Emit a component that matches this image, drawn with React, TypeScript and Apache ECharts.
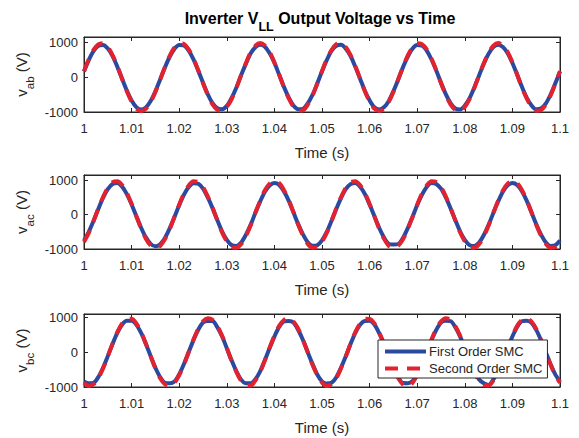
import React, { useEffect, useRef } from "react";
import * as echarts from "echarts";

const TIME = [
  1.0, 1.001, 1.002, 1.003, 1.004, 1.005, 1.006, 1.007, 1.008, 1.009,
  1.01, 1.011, 1.012, 1.013, 1.014, 1.015, 1.016, 1.017, 1.018, 1.019,
  1.02, 1.021, 1.022, 1.023, 1.024, 1.025, 1.026, 1.027, 1.028, 1.029,
  1.03, 1.031, 1.032, 1.033, 1.034, 1.035, 1.036, 1.037, 1.038, 1.039,
  1.04, 1.041, 1.042, 1.043, 1.044, 1.045, 1.046, 1.047, 1.048, 1.049,
  1.05, 1.051, 1.052, 1.053, 1.054, 1.055, 1.056, 1.057, 1.058, 1.059,
  1.06, 1.061, 1.062, 1.063, 1.064, 1.065, 1.066, 1.067, 1.068, 1.069,
  1.07, 1.071, 1.072, 1.073, 1.074, 1.075, 1.076, 1.077, 1.078, 1.079,
  1.08, 1.081, 1.082, 1.083, 1.084, 1.085, 1.086, 1.087, 1.088, 1.089,
  1.09, 1.091, 1.092, 1.093, 1.094, 1.095, 1.096, 1.097, 1.098, 1.099, 1.1,
];

const VAB_FIRST = [
  163, 488, 745, 897, 924, 820, 602, 299, -47, -385, -670, -860, -930, -869, -686, -406, -70, 276, 584, 809, 922, 904, 759, 508, 186,
  -158, -492, -748, -893, -920, -825, -598, -303, 52, 380, 674, 856, 925, 872, 682, 410, 66, -280, -580, -812, -918, -908, -755, -512, -182,
  166, 485, 750, 894, 927, 816, 606, 295, -44, -389, -666, -864, -926, -865, -690, -402, -73, 279, 580, 813, 918, 907, 762, 505, 189,
  -160, -490, -742, -899, -926, -818, -604, -297, 49, 383, 668, 862, 928, 866, 688, 404, 68, -278, -586, -806, -924, -902, -761, -506, -184,
  162,
];
const VAB_SECOND = [
  171, 512, 781, 941, 969, 860, 631, 313, -49, -404, -702, -902, -975, -911, -720, -426, -73, 290, 612, 848, 966, 947, 796, 532, 195,
  -174, -508, -785, -938, -972, -856, -634, -310, 53, 400, 705, 898, 978, 908, 724, 422, 76, -294, -608, -851, -962, -950, -792, -535, -192,
  168, 515, 778, 944, 966, 863, 628, 316, -46, -407, -699, -905, -972, -914, -717, -429, -70, 287, 615, 845, 969, 944, 799, 529, 198,
  -170, -510, -783, -940, -975, -858, -632, -311, 50, 402, 704, 900, 976, 910, 722, 424, 74, -292, -610, -850, -965, -948, -794, -534, -194,
  172,
];
const VAC_FIRST = [
  -751, -502, -184, 161, 483, 737, 888, 914, 811, 595, 295, -46, -381, -662, -851, -920, -859, -679, -402, -69, 273, 578, 800, 912, 894,
  755, 498, 188, -157, -487, -733, -884, -910, -815, -591, -299, 50, 377, 666, 847, 916, 862, 675, 406, 65, -277, -574, -804, -908, -890,
  -748, -505, -180, 164, 480, 740, 885, 917, 808, 598, 292, -43, -384, -659, -848, -870, -860, -682, -399, -72, 276, 575, 803, 915, 891,
  752, 500, 186, -159, -485, -735, -886, -912, -813, -593, -297, 48, 379, 664, 849, 918, 860, 677, 404, 67, -275, -576, -802, -910, -892,
  -750,
];
const VAC_SECOND = [
  -796, -532, -195, 171, 512, 781, 941, 969, 860, 631, 313, -49, -404, -702, -902, -975, -911, -720, -426, -73, 290, 612, 848, 966, 948,
  800, 528, 199, -167, -516, -777, -945, -965, -864, -627, -317, 53, 400, 706, 898, 971, 915, 716, 430, 69, -294, -608, -852, -962, -952,
  -792, -535, -191, 174, 509, 784, 938, 972, 857, 634, 310, -46, -407, -699, -905, -978, -908, -723, -423, -76, 287, 615, 845, 969, 945,
  798, 530, 197, -169, -514, -779, -943, -967, -862, -629, -315, 51, 402, 704, 900, 973, 913, 718, 428, 71, -292, -610, -850, -964, -950,
  -794,
];
const VBC_FIRST = [
  -842, -895, -884, -717, -448, -116, 232, 547, 785, 895, 895, 785, 547, 232, -116, -448, -717, -884, -895, -842, -637, -342, 0, 342, 637,
  846, 892, 888, 713, 452, 112, -236, -543, -789, -892, -894, -781, -551, -228, 120, 444, 721, 880, 893, 846, 633, 346, -4, -338, -641,
  -838, -898, -880, -721, -444, -120, 228, 551, 781, 892, 897, 789, 543, 236, -112, -452, -713, -888, -893, -838, -641, -338, 4, 346, 633,
  844, 894, 886, 715, 450, 114, -234, -545, -787, -893, -940, -783, -549, -230, 118, 446, 719, 882, 896, 840, 635, 344, -2, -340, -639,
  -843,
];
const VBC_SECOND = [
  -878, -968, -922, -748, -468, -121, 242, 570, 819, 953, 953, 819, 570, 242, -121, -468, -748, -922, -968, -878, -664, -357, 0, 357, 664,
  882, 965, 926, 744, 472, 117, -246, -566, -823, -949, -957, -815, -574, -238, 125, 464, 752, 918, 971, 874, 668, 353, -4, -361, -660,
  -874, -971, -918, -752, -464, -125, 238, 574, 815, 957, 949, 823, 566, 246, -117, -472, -744, -926, -990, -882, -660, -361, 4, 353, 668,
  876, 966, 924, 746, 470, 119, -244, -568, -821, -951, -955, -817, -572, -240, 123, 466, 750, 920, 969, 876, 666, 355, -2, -359, -662,
  -880,
];

const SERIES_NAMES = ["First Order SMC", "Second Order SMC"];
const Y_TICKS = [-1000, 0, 1000];
const PANEL_DATA = [
  [VAB_FIRST, VAB_SECOND],
  [VAC_FIRST, VAC_SECOND],
  [VBC_FIRST, VBC_SECOND],
];
const PANEL_SUBS = ["ab", "ac", "bc"];

const FONT = "'Liberation Sans', Arial, Helvetica, sans-serif";
const AX = "#262626";
const BLUE = "#2B4A9F";
const RED = "#E2232F";

const LAYOUT = [
  { top: 37, height: 75, ymax: 1150 },
  { top: 175, height: 74, ymax: 1150 },
  { top: 314, height: 73, ymax: 1090 },
];
const LEFT = 84;
const WIDTH = 476;

export default function App() {
  const ref = useRef<HTMLDivElement>(null);
  useEffect(() => {
    if (!ref.current) return;
    const chart = echarts.init(ref.current, null, { renderer: "svg" });

    const grid = LAYOUT.map((l) => ({
      left: LEFT,
      top: l.top,
      width: WIDTH,
      height: l.height,
      show: true,
      borderColor: AX,
      borderWidth: 1,
      backgroundColor: "#fff",
      containLabel: false,
    }));

    const xAxis: any[] = [];
    const yAxis: any[] = [];
    LAYOUT.forEach((l, i) => {
      const baseX = {
        type: "value",
        gridIndex: i,
        min: 1,
        max: 1.1,
        interval: 0.01,
        splitLine: { show: false },
        axisLine: { show: true, onZero: false, lineStyle: { color: AX, width: 1 } },
        axisTick: { show: true, inside: true, length: 4, lineStyle: { color: AX } },
      };
      xAxis.push({
        ...baseX,
        position: "bottom",
        axisLabel: {
          show: true,
          color: AX,
          fontSize: 13,
          fontFamily: FONT,
          margin: 10,
          formatter: (v: number) => String(Math.round(v * 100) / 100),
        },
        name: "Time (s)",
        nameLocation: "middle",
        nameGap: 33,
        nameTextStyle: { color: AX, fontSize: 15, fontFamily: FONT },
      });
      xAxis.push({ ...baseX, position: "top", axisLabel: { show: false } });
      const baseY = {
        type: "value",
        gridIndex: i,
        min: -1000,
        max: l.ymax,
        interval: 1000,
        splitLine: { show: false },
        axisLine: { show: true, onZero: false, lineStyle: { color: AX, width: 1 } },
        axisTick: { show: true, inside: true, length: 4, lineStyle: { color: AX } },
      };
      yAxis.push({
        ...baseY,
        position: "left",
        axisLabel: {
          show: true,
          color: AX,
          fontSize: 13,
          fontFamily: FONT,
          margin: 6,
          showMaxLabel: false,
          formatter: (v: number) => (Y_TICKS.includes(v) ? String(v) : ""),
        },
      });
      yAxis.push({ ...baseY, position: "right", axisLabel: { show: false } });
    });

    const series: any[] = [];
    PANEL_DATA.forEach((pair, i) => {
      pair.forEach((vals, j) => {
        series.push({
          type: "line",
          name: SERIES_NAMES[j],
          xAxisIndex: i * 2,
          yAxisIndex: i * 2,
          data: TIME.map((t, k) => [t, vals[k]]),
          smooth: 0.3,
          symbol: "none",
          showSymbol: false,
          z: 2 + j,
          lineStyle: {
            color: j === 0 ? BLUE : RED,
            width: 4,
            type: j === 0 ? "solid" : [13, 9],
          },
          itemStyle: { color: j === 0 ? BLUE : RED },
        });
      });
    });

    const graphic: any[] = [
      {
        type: "text",
        x: 320,
        y: 18,
        style: {
          text: "{b|Inverter V}{s|LL}{b| Output Voltage vs Time}",
          align: "center",
          verticalAlign: "middle",
          rich: {
            b: { fontSize: 16, fontWeight: "bold", fontFamily: FONT, fill: "#000" },
            s: { fontSize: 12.5, fontWeight: "bold", fontFamily: FONT, fill: "#000", padding: [18, 0, 0, 0] },
          },
        },
      },
    ];
    LAYOUT.forEach((l, i) => {
      graphic.push({
        type: "text",
        x: 21,
        y: l.top + l.height / 2,
        rotation: Math.PI / 2,
        style: {
          text: `{n|v}{s|${PANEL_SUBS[i]}}{n| (V)}`,
          align: "center",
          verticalAlign: "middle",
          rich: {
            n: { fontSize: 15, fontFamily: FONT, fill: AX },
            s: { fontSize: 11.5, fontFamily: FONT, fill: AX, padding: [18, 0, 0, 0] },
          },
        },
      });
    });

    chart.setOption({
      animation: false,
      backgroundColor: "#fff",
      textStyle: { fontFamily: FONT },
      grid,
      xAxis,
      yAxis,
      series,
      graphic,
      legend: {
        data: SERIES_NAMES,
        orient: "vertical",
        left: 378,
        top: 340,
        backgroundColor: "#fff",
        borderColor: AX,
        borderWidth: 1,
        borderRadius: 0,
        padding: [5, 5, 3, 5],
        itemGap: 4,
        itemWidth: 41,
        itemHeight: 14,
        itemStyle: { opacity: 0 },
        lineStyle: { width: 4 },
        textStyle: { fontSize: 13, color: AX, fontFamily: FONT, padding: [0, 0, 0, -2] },
      },
    });
    return () => chart.dispose();
  }, []);
  return (
    <div
      ref={ref}
      style={{ position: "fixed", left: 0, top: 0, width: 579, height: 438, background: "#fff" }}
    />
  );
}
